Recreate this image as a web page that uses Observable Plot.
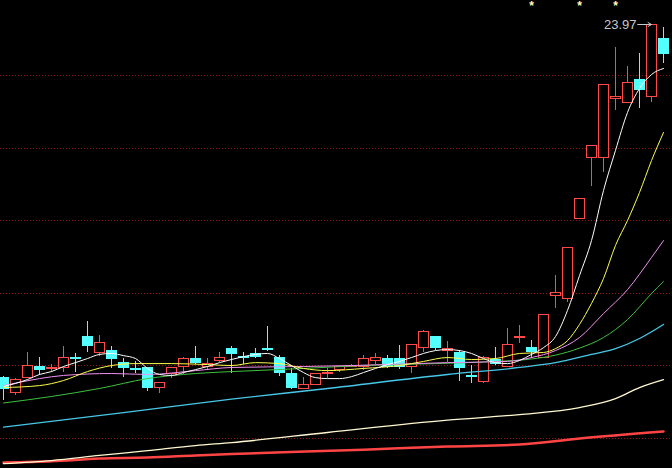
<!DOCTYPE html>
<html><head><meta charset="utf-8">
<script src="https://cdn.jsdelivr.net/npm/d3@7"></script>
<script src="https://cdn.jsdelivr.net/npm/@observablehq/plot@0.6"></script>
<style>html,body{margin:0;padding:0;background:#000;overflow:hidden}</style>
</head><body><div id="chart"></div>
<script>
// Daily candles (price units)
const open  = [9.36,8.74,9.36,9.78,9.72,9.74,10.19,11.02,10.36,10.48,9.98,9.71,9.74,8.91,9.49,9.82,10.15,9.78,10.03,10.56,10.21,10.32,10.56,10.19,9.53,8.87,9.07,9.53,9.69,9.80,9.82,10.03,10.15,10.11,9.78,10.60,11.06,10.48,10.36,9.42,9.16,10.07,9.78,10.98,10.60,10.19,12.72,12.63,15.94,18.43,18.43,20.87,20.74,21.69,20.95,23.39];
const close = [8.87,9.28,9.86,9.69,9.76,10.19,10.11,10.65,10.81,10.11,9.74,9.67,8.91,9.12,9.74,10.15,9.98,9.94,10.19,10.32,10.17,10.23,10.52,9.57,8.91,9.07,9.49,9.57,9.78,9.86,10.11,10.19,9.78,9.78,10.69,11.23,10.60,10.56,9.74,9.38,10.19,9.94,10.69,11.06,10.40,11.97,12.88,14.74,16.73,18.96,21.45,20.99,21.57,21.28,23.97,22.77];
const high  = [9.40,9.32,10.40,10.19,9.90,10.65,10.36,11.68,11.10,10.65,10.15,10.03,9.78,9.16,9.78,10.19,10.65,10.15,10.40,10.65,10.40,10.56,11.47,10.27,9.74,9.36,9.49,9.74,9.78,9.90,10.27,10.36,10.27,10.69,10.69,11.31,11.06,10.85,10.48,9.86,10.23,10.60,11.39,11.52,10.89,11.97,13.58,14.74,16.73,18.96,21.45,23.02,22.23,22.77,23.97,23.85];
const low   = [8.41,8.62,9.32,9.45,9.57,9.57,9.57,10.40,10.23,9.74,9.36,9.53,8.78,8.70,9.32,9.49,9.90,9.65,9.98,9.53,9.90,10.15,10.44,9.40,8.87,8.87,9.07,9.32,9.57,9.78,9.65,9.90,9.74,9.69,9.53,10.40,10.48,9.98,9.20,9.12,9.12,9.86,9.78,10.77,10.15,10.19,12.22,12.47,15.94,17.27,17.85,20.41,20.74,20.49,20.74,22.36];

// Moving averages
const ma5 = [8.99,9.12,9.28,9.49,9.61,9.82,9.98,10.15,10.32,10.36,10.27,10.15,9.74,9.49,9.45,9.57,9.69,9.82,9.98,10.11,10.23,10.32,10.36,10.15,9.86,9.57,9.36,9.32,9.32,9.40,9.57,9.74,9.90,10.03,10.19,10.36,10.48,10.52,10.48,10.36,10.15,9.98,9.94,10.07,10.32,10.60,11.06,12.14,13.58,15.03,17.10,18.76,20.33,21.32,21.90,22.15];
const ma10Idx = [0,3,5,7,9,11,14,17,19,21,23,25,27,30,33,35,37,39,41,43,45,46,47,48,49,50,51,52,53,54,55];
const ma10 = [8.95,9.03,9.24,9.61,9.86,9.94,9.94,9.90,9.86,9.98,9.94,9.74,9.65,9.74,9.86,10.03,10.19,10.11,10.15,10.36,10.40,10.56,10.89,11.56,12.43,13.46,14.83,15.86,17.02,18.34,19.50];
const ma20Idx = [0,3,5,9,12,16,19,25,29,37,42,44,46,48,50,52,54,55];
const ma20 = [9.03,9.32,9.45,9.53,9.49,9.65,9.78,9.82,9.86,9.98,10.03,10.19,10.48,11.02,12.01,13.00,14.33,15.03];
const ma30Idx = [0,4,8,12,16,20,25,30,36,41,44,46,48,50,52,54,55];
const ma30 = [8.31,8.58,8.91,9.32,9.53,9.63,9.74,9.86,9.94,10.03,10.13,10.29,10.58,11.02,11.76,12.84,13.34];
const ma60Idx = [0,10,19,27,37,43,46,49,51,53,55];
const ma60 = [7.31,7.91,8.47,8.91,9.49,9.78,9.98,10.32,10.56,10.98,11.56];
const ma120Idx = [0,4,8,12,16,19,27,37,43,48,51,53,55];
const ma120 = [5.80,5.93,6.14,6.34,6.55,6.67,7.09,7.60,7.83,8.12,8.49,8.95,9.28];
const ma250Idx = [0,4,8,12,16,19,30,37,43,48,55];
const ma250 = [5.85,5.90,6.01,6.05,6.14,6.20,6.38,6.51,6.59,6.84,7.13];

const gridPrices = [21.86,18.86,15.86,12.86,9.86,6.86];
const starIdx = [44,48,51];
const peakIdx = [54];
const peakPrice = [23.97];

const UP = "#ff4a4a", DOWN = "#54ffff";
const candles = open.map((o,i)=>({i, o, c:close[i], h:high[i], l:low[i]}));
const upC = candles.filter(d=>d.c>=d.o);
const dnC = candles.filter(d=>d.c<d.o);
const series = (idx, vals) => idx.map((i,k)=>({i, v: vals[k]}));
const m5 = ma5.map((v,i)=>({i,v}));
const peak = peakIdx.map((i,k)=>({i, p: peakPrice[k]}));
const yTop = 24.963;
const hw = 5/12;
const crisp = "crispEdges";

const plot = Plot.plot({
  width: 672, height: 468,
  margin: 0,
  style: {background: "#000", fontFamily: "'Liberation Sans', Arial, sans-serif"},
  x: {type: "linear", domain: [-0.25, 55.75], axis: null},
  y: {domain: [5.60, yTop], axis: null},
  marks: [
    Plot.ruleY(gridPrices, {stroke: "#8c1414", strokeDasharray: "1,2", shapeRendering: crisp}),
    // wicks
    Plot.ruleX(upC, {x: "i", y1: "l", y2: "h", stroke: UP, shapeRendering: crisp}),
    Plot.ruleX(dnC, {x: "i", y1: "l", y2: "h", stroke: DOWN, shapeRendering: crisp}),
    // bodies
    Plot.rect(upC, {x1: d=>d.i-hw, x2: d=>d.i+hw, y1: "o", y2: "c", fill: "#000", stroke: UP, shapeRendering: crisp}),
    Plot.rect(dnC, {x1: d=>d.i-hw, x2: d=>d.i+hw, y1: "o", y2: "c", fill: DOWN, stroke: DOWN, shapeRendering: crisp}),
    // moving averages
    Plot.line(series(ma250Idx, ma250), {x: "i", y: "v", stroke: "#ff4444", strokeWidth: 2.5, curve: "monotone-x"}),
    Plot.line(series(ma120Idx, ma120), {x: "i", y: "v", stroke: "#fff8d0", strokeWidth: 1.3, curve: "monotone-x"}),
    Plot.line(series(ma60Idx, ma60), {x: "i", y: "v", stroke: "#48c8e8", strokeWidth: 1.3, curve: "monotone-x"}),
    Plot.line(series(ma30Idx, ma30), {x: "i", y: "v", stroke: "#40c040", strokeWidth: 1, curve: "monotone-x"}),
    Plot.line(series(ma20Idx, ma20), {x: "i", y: "v", stroke: "#f090f0", strokeWidth: 1, curve: "monotone-x"}),
    Plot.line(series(ma10Idx, ma10), {x: "i", y: "v", stroke: "#ffff50", strokeWidth: 1, curve: "monotone-x"}),
    Plot.line(m5, {x: "i", y: "v", stroke: "#ffffff", strokeWidth: 1, curve: "monotone-x"}),
    // markers
    Plot.text(starIdx, {x: d=>d, y: () => yTop, text: () => "*", fill: "#ffffc0", fontSize: 12, fontWeight: "bold", lineAnchor: "top", dy: 1}),
    Plot.text(peak, {x: "i", y: "p", text: d=>d.p.toFixed(2), textAnchor: "end", dx: -15, fill: "#c8c8c8", fontSize: 13}),
    Plot.arrow(peak, {x1: d=>d.i-1.15, x2: d=>d.i, y1: "p", y2: "p", stroke: "#c8c8c8", headLength: 6, strokeWidth: 1})
  ]
});
document.getElementById("chart").appendChild(plot);
</script>
</body></html>
